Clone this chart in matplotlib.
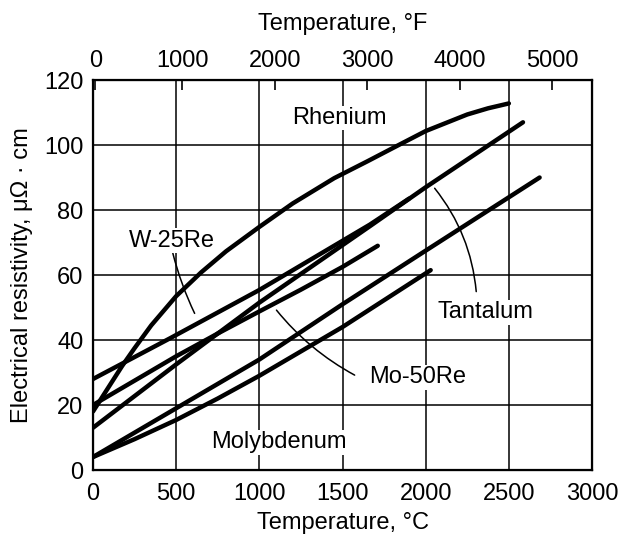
import numpy as np
import matplotlib.pyplot as plt

plt.rcParams['font.family'] = ['Liberation Sans', 'DejaVu Sans']

# temperature (deg C) / resistivity (micro-ohm cm)
t_rhenium = [0, 50, 100, 175, 250, 350, 500, 650, 800, 1000, 1200, 1450, 1650, 1800, 2000, 2250, 2375, 2500]
r_rhenium = [18, 22, 26, 32, 37.5, 44.5, 53.5, 60.8, 67.3, 74.8, 82, 89.8, 95, 99, 104.3, 109.4, 111.3, 112.8]

t_tantalum = [0, 500, 1000, 1664, 2000, 2585]
r_tantalum = [13, 32.5, 51.5, 75, 87, 107]

t_w25re = [0, 462, 1000, 1664, 1900]
r_w25re = [28, 40.5, 55.4, 75.5, 83.5]

t_mo50re = [0, 250, 500, 750, 1000, 1250, 1500, 1712]
r_mo50re = [20, 27.5, 35, 42, 48.8, 55.5, 62.5, 69]

t_tungsten = [0, 250, 500, 1000, 1500, 2000, 2685]
r_tungsten = [4, 11.5, 19, 34, 51, 67.5, 90]

t_molybdenum = [0, 250, 500, 750, 1000, 1500, 2030]
r_molybdenum = [4, 9.5, 15.4, 22, 29, 44, 61.5]

fahrenheit_ticks = [0, 1000, 2000, 3000, 4000, 5000]

fig = plt.figure(figsize=(6.22, 5.4), dpi=100)
ax = fig.add_axes([0.1495, 0.1296, 0.8023, 0.7222])

curves = [(t_rhenium, r_rhenium), (t_tantalum, r_tantalum), (t_w25re, r_w25re),
          (t_mo50re, r_mo50re), (t_tungsten, r_tungsten), (t_molybdenum, r_molybdenum)]
for t, r in curves:
    ax.plot(t, r, color='black', lw=3.2, solid_capstyle='round', solid_joinstyle='round', zorder=3)

fs = 17
ax.set_xlim(0, 3000)
ax.set_ylim(0, 120)
ax.set_xticks(np.arange(0, 3001, 500))
ax.set_yticks(np.arange(0, 121, 20))
ax.grid(True, color='black', lw=1.1)
ax.set_axisbelow(True)
for s in ax.spines.values():
    s.set_linewidth(1.6)
ax.tick_params(length=0, labelsize=fs, pad=7)
ax.tick_params(axis='x', pad=9)

ax.set_xlabel('Temperature, °C', fontsize=fs)
ax.xaxis.set_label_coords(0.5, -0.108)
ax.set_ylabel('Electrical resistivity, μΩ · cm', fontsize=fs)
ax.yaxis.set_label_coords(-0.12, 0.5)

# secondary Fahrenheit scale on top
top = ax.twiny()
top.set_xlim(ax.get_xlim())
f_pos = np.clip((np.array(fahrenheit_ticks) - 32) * 5 / 9, 15, None)
top.set_xticks(f_pos)
top.set_xticklabels([str(f) for f in fahrenheit_ticks])
top.tick_params(direction='in', length=7, width=1.2, labelsize=fs, pad=6)
top.set_xlabel('Temperature, °F', fontsize=fs)
top.xaxis.set_label_coords(0.5, 1.128)

box = dict(facecolor='white', edgecolor='none', pad=1)
ax.text(1483, 108.3, 'Rhenium', ha='center', va='center', fontsize=fs, bbox=box, zorder=4)
ax.text(477, 70.5, 'W-25Re', ha='center', va='center', fontsize=fs, bbox=box, zorder=4)
ax.text(2359, 48.5, 'Tantalum', ha='center', va='center', fontsize=fs, bbox=box, zorder=4)
ax.text(1949, 28.5, 'Mo-50Re', ha='center', va='center', fontsize=fs, bbox=box, zorder=4)
ax.text(1117, 8.5, 'Molybdenum', ha='center', va='center', fontsize=fs, bbox=box, zorder=4)

lead = dict(arrowstyle='-', lw=1.1, color='black', shrinkA=0, shrinkB=0)
ax.annotate('', xy=(611, 48.2), xytext=(480, 66.7),
            arrowprops=dict(lead, connectionstyle='arc3,rad=0.05'))
ax.annotate('', xy=(2054, 86.7), xytext=(2304, 54.9),
            arrowprops=dict(lead, connectionstyle='arc3,rad=0.15'))
ax.annotate('', xy=(1103, 49.2), xytext=(1573, 29.2),
            arrowprops=dict(lead, connectionstyle='arc3,rad=-0.1'))

fig.savefig('out.png', dpi=100)
